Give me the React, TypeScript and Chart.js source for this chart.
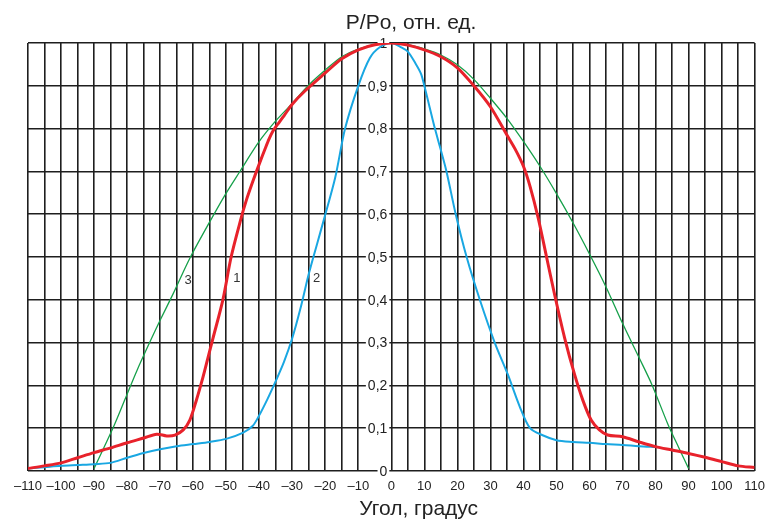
import React, { useEffect, useRef } from "react";
import { Chart, registerables } from "chart.js";

Chart.register(...registerables);

// Curve 1 (red)
const angles1 = [-110, -105, -100, -95, -90, -85, -80, -75, -71, -68, -65.5, -63, -61, -59, -57, -55.5, -54, -51, -48.5, -45.5, -44, -42, -40, -38, -37, -36, -35, -34, -32.5, -30, -26, -20, -15, -10, -5, 0, 5, 10, 15, 20, 25, 30, 35, 37.5, 40, 42, 44.5, 47, 49.5, 52.5, 55.5, 58, 60.5, 63, 65.5, 70, 75, 80, 85, 90, 95, 100, 105, 110];
const values1 = [0.006, 0.012, 0.019, 0.031, 0.043, 0.054, 0.066, 0.077, 0.086, 0.082, 0.084, 0.096, 0.119, 0.166, 0.22, 0.265, 0.31, 0.4, 0.5, 0.59, 0.63, 0.675, 0.717, 0.757, 0.776, 0.792, 0.804, 0.814, 0.83, 0.857, 0.889, 0.93, 0.963, 0.984, 0.996, 1.0, 0.995, 0.984, 0.968, 0.942, 0.9, 0.851, 0.785, 0.752, 0.712, 0.665, 0.59, 0.5, 0.41, 0.31, 0.225, 0.165, 0.119, 0.096, 0.084, 0.08, 0.068, 0.057, 0.049, 0.041, 0.032, 0.022, 0.012, 0.008];

// Curve 2 (blue)
const angles2 = [-110, -105, -100, -95, -90, -85, -80, -75, -70, -65, -60, -55, -50, -45, -42, -40, -37.5, -35, -32.5, -30, -27.5, -25, -22.5, -20.5, -17, -14, -10, -6.5, -3.5, 0, 3, 5, 7.5, 9, 10, 11.6, 13.2, 14.7, 16.7, 19.5, 22.8, 26.8, 31.3, 35.3, 38.9, 42, 46, 50, 55, 60, 65, 70, 75, 80];
const values2 = [0.006, 0.009, 0.012, 0.014, 0.016, 0.019, 0.031, 0.042, 0.051, 0.058, 0.063, 0.068, 0.075, 0.089, 0.105, 0.13, 0.168, 0.21, 0.255, 0.31, 0.38, 0.46, 0.53, 0.585, 0.685, 0.8, 0.9, 0.965, 0.99, 1.0, 0.99, 0.98, 0.95, 0.928, 0.9, 0.85, 0.8, 0.758, 0.7, 0.6, 0.5, 0.4, 0.3, 0.225, 0.15, 0.1, 0.083, 0.072, 0.068, 0.066, 0.063, 0.061, 0.058, 0.056];

// Curve 3 (green)
const angles3 = [-90, -87, -84, -80.5, -77, -73, -70, -66, -61, -55.5, -50.5, -46, -40, -35, -30, -25, -20, -15, -10, -5, 0, 5, 10, 15, 20, 25, 30, 35, 40, 45, 50, 55, 60, 65, 70, 75, 79, 83.7, 87, 90];
const values3 = [0.006, 0.055, 0.105, 0.17, 0.235, 0.303, 0.352, 0.415, 0.497, 0.575, 0.643, 0.698, 0.77, 0.818, 0.859, 0.902, 0.937, 0.968, 0.986, 0.997, 1.0, 0.996, 0.986, 0.972, 0.949, 0.915, 0.871, 0.824, 0.77, 0.712, 0.648, 0.58, 0.507, 0.43, 0.345, 0.265, 0.2, 0.11, 0.055, 0.006];

// Y tick values and labels
const yTickValues = [0, 0.1, 0.2, 0.3, 0.4, 0.5, 0.6, 0.7, 0.8, 0.9, 1];
const yTickLabels = ["0", "0,1", "0,2", "0,3", "0,4", "0,5", "0,6", "0,7", "0,8", "0,9", "1"];

// Curve number labels
const curveLabelTexts = ["3", "1", "2"];
const curveLabelAngles = [-61.5, -46.8, -22.6];
const curveLabelValues = [0.446, 0.451, 0.449];

const yTitle = "P/Po, отн. ед.";
const xTitle = "Угол, градус";

const FONT = '"Liberation Sans", Arial, sans-serif';
const GRID = "#1e1e1e";

function toPoints(xs: number[], ys: number[]) {
  return xs.map((x, i) => ({ x, y: ys[i] }));
}

const yLabelPlugin = {
  id: "yLabels",
  beforeDatasetsDraw(chart: any) {
    const { ctx } = chart;
    const xs = chart.scales.x;
    const ys = chart.scales.y;
    const right = xs.getPixelForValue(0) - 4;
    ctx.save();
    ctx.font = `14px ${FONT}`;
    ctx.textAlign = "right";
    ctx.textBaseline = "middle";
    yTickValues.forEach((v, i) => {
      const t = yTickLabels[i];
      const py = ys.getPixelForValue(v);
      const w = ctx.measureText(t).width;
      ctx.fillStyle = "#ffffff";
      ctx.fillRect(right - w - 2, py - 7, w + 4, 14);
      ctx.fillStyle = "#222";
      ctx.fillText(t, right, py + 1);
    });
    ctx.restore();
  },
};

const overlayPlugin = {
  id: "overlayText",
  afterDatasetsDraw(chart: any) {
    const { ctx, chartArea } = chart;
    const xs = chart.scales.x;
    const ys = chart.scales.y;
    ctx.save();
    ctx.fillStyle = "#222";
    ctx.textAlign = "center";
    ctx.textBaseline = "alphabetic";
    ctx.font = `21px ${FONT}`;
    ctx.fillText(yTitle, xs.getPixelForValue(6), chartArea.top - 14.5);
    ctx.fillText(xTitle, xs.getPixelForValue(8.3), chartArea.bottom + 44);
    ctx.font = `13px ${FONT}`;
    ctx.fillStyle = "#333";
    ctx.textBaseline = "middle";
    curveLabelTexts.forEach((t, i) => {
      ctx.fillText(t, xs.getPixelForValue(curveLabelAngles[i]), ys.getPixelForValue(curveLabelValues[i]));
    });
    ctx.restore();
  },
};

export default function App() {
  const ref = useRef<HTMLCanvasElement | null>(null);
  useEffect(() => {
    if (!ref.current) return;
    const chart = new Chart(ref.current, {
      type: "line",
      data: {
        datasets: [
          {
            label: "1",
            data: toPoints(angles1, values1),
            borderColor: "#e8222b",
            borderWidth: 3,
            pointRadius: 0,
            tension: 0.3,
            order: 1,
          },
          {
            label: "2",
            data: toPoints(angles2, values2),
            borderColor: "#19a7e2",
            borderWidth: 2,
            pointRadius: 0,
            tension: 0.3,
            order: 2,
          },
          {
            label: "3",
            data: toPoints(angles3, values3),
            borderColor: "#16a04a",
            borderWidth: 1.3,
            pointRadius: 0,
            tension: 0.3,
            order: 3,
          },
        ],
      },
      options: {
        responsive: false,
        animation: false,
        layout: { padding: { left: 28, right: 18, top: 43, bottom: 17.4 } },
        plugins: {
          legend: { display: false },
          tooltip: { enabled: false },
          title: { display: false },
        },
        scales: {
          x: {
            type: "linear",
            min: -110,
            max: 110,
            border: { display: false },
            grid: {
              drawTicks: false,
              lineWidth: 1.6,
              color: (c: any) => (c.tick && c.tick.value === -5 ? "rgba(0,0,0,0)" : GRID),
            },
            ticks: {
              stepSize: 5,
              autoSkip: false,
              maxRotation: 0,
              padding: 8,
              color: "#222",
              font: { family: FONT, size: 13 },
              callback: (v: any) => {
                const n = Number(v);
                if (Math.round(n) % 10 !== 0) return "";
                return n < 0 ? "\u2013" + Math.abs(n) : String(n);
              },
            },
          },
          y: {
            type: "linear",
            min: 0,
            max: 1,
            position: { x: 0 } as any,
            border: { display: false },
            grid: { drawTicks: false, lineWidth: 1.6, color: GRID },
            ticks: {
              stepSize: 0.1,
              display: false,
            },
          },
        },
      },
      plugins: [yLabelPlugin, overlayPlugin],
    } as any);
    return () => chart.destroy();
  }, []);
  return (
    <div style={{ position: "absolute", left: 0, top: 0, width: 773, height: 520, background: "#fff" }}>
      <canvas ref={ref} width={773} height={520} style={{ display: "block" }} />
    </div>
  );
}
